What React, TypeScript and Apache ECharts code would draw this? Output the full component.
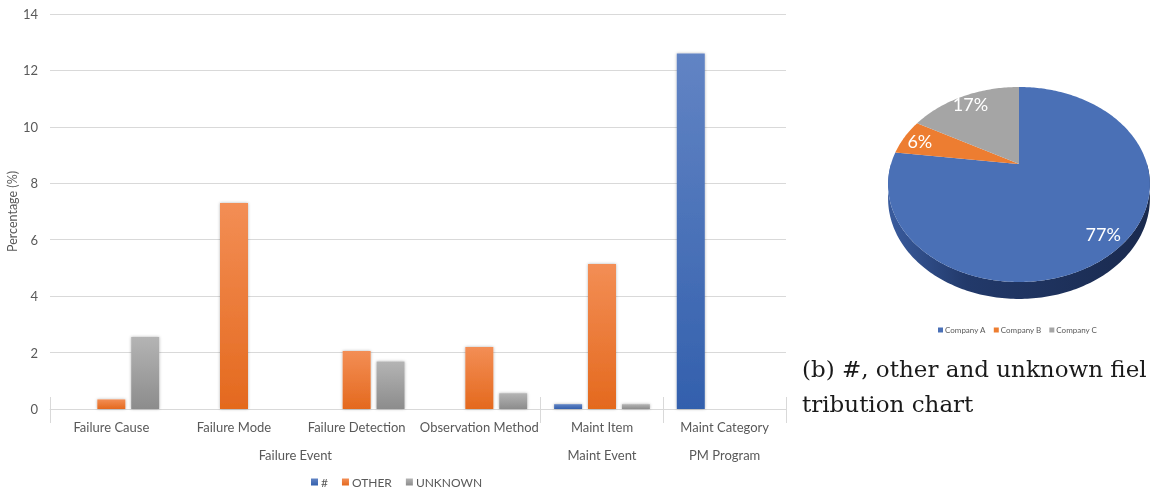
import React, { useEffect, useRef } from 'react';
import * as echarts from 'echarts';

// Field categories on the bar chart, grouped under their parent event
const categories = ['Failure Cause', 'Failure Mode', 'Failure Detection', 'Observation Method', 'Maint Item', 'Maint Category'];
const groupNames = ['Failure Event', 'Maint Event', 'PM Program'];
const groupSpans = [4, 1, 1];

// Percentage of records per field holding "#", "OTHER" or "UNKNOWN"
const seriesNames = ['#', 'OTHER', 'UNKNOWN'];
const hashValues = [0, 0, 0, 0, 0.17, 12.6];
const otherValues = [0.34, 7.3, 2.06, 2.2, 5.14, 0];
const unknownValues = [2.55, 0, 1.68, 0.56, 0.17, 0];

const yMin = 0;
const yMax = 14;
const yStep = 2;

// Share of the records by company (pie)
const companies = ['Company A', 'Company B', 'Company C'];
const companyShares = [77, 6, 17];

const captionLines = ['(b) #, other and unknown fiel', 'tribution chart'];

const FONT = 'Lato, "Open Sans", sans-serif';
const TEXT_GREY = '#595959';
const GRID_GREY = '#D9D9D9';

const barColors = [
  ['#6284C4', '#3360AD'],
  ['#F38E55', '#E4691E'],
  ['#B4B4B4', '#8C8C8C'],
];
const pieColors = ['#4A70B6', '#ED7D31', '#A5A5A5'];

// tilted-disc projection for the 3D pie
const PIE = { cx: 1019, cy: 164, a: 128, b: 93.2, q: 0.21, depth: 13.4 };
const rad = (d: number) => (d * Math.PI) / 180;
function project(thetaDeg: number, f = 1): [number, number] {
  const u = f * Math.cos(rad(thetaDeg));
  const v = f * Math.sin(rad(thetaDeg));
  const d = 1 + PIE.q * v;
  return [PIE.cx + (PIE.a * u) / d, PIE.cy - (PIE.b * v) / d];
}
function projectBottom(thetaDeg: number): [number, number] {
  const v = Math.sin(rad(thetaDeg));
  const [x, y] = project(thetaDeg);
  return [x, y + PIE.depth / (1 + PIE.q * v)];
}
function arcPoints(from: number, to: number, fn: (t: number) => [number, number]) {
  const pts: [number, number][] = [];
  const steps = Math.max(2, Math.ceil(Math.abs(from - to)));
  for (let i = 0; i <= steps; i++) pts.push(fn(from + ((to - from) * i) / steps));
  return pts;
}

function pieRenderItem(params: any, api: any) {
  const idx = companies.indexOf(params.seriesName);
  const total = companyShares.reduce((s, v) => s + v, 0);
  const before = companyShares.slice(0, idx).reduce((s, v) => s + v, 0);
  const value = api.value(0);
  const t0 = 90 - (before / total) * 360;
  const t1 = 90 - ((before + value) / total) * 360;
  const children: any[] = [];

  // front wall, visible where the rim faces the viewer
  const lo = Math.max(t1, -180);
  const hi = Math.min(t0, 0);
  if (lo < hi) {
    const top = arcPoints(hi, lo, project);
    const bottom = arcPoints(lo, hi, projectBottom);
    children.push({
      type: 'polygon',
      shape: { points: [...top, ...bottom] },
      style: {
        fill: new echarts.graphic.LinearGradient(0, 0, 1, 0, [
          { offset: 0, color: '#3A5C9E' },
          { offset: 0.3, color: '#22396A' },
          { offset: 1, color: '#1A2A4E' },
        ]),
      },
    });
  }

  children.push({
    type: 'polygon',
    shape: { points: [[PIE.cx, PIE.cy], ...arcPoints(t0, t1, project)] },
    style: { fill: pieColors[idx] },
  });

  const [lx, ly] = project((t0 + t1) / 2, 0.86);
  children.push({
    type: 'text',
    x: lx,
    y: ly,
    style: {
      text: `${Math.round((value / total) * 100)}%`,
      fill: '#FFFFFF',
      fontSize: 18,
      fontFamily: FONT,
      align: 'center',
      verticalAlign: 'middle',
    },
  });
  return { type: 'group', children };
}

export default function App() {
  const ref = useRef<HTMLDivElement>(null);

  useEffect(() => {
    if (!ref.current) return;
    const chart = echarts.init(ref.current, undefined, { renderer: 'svg' });

    const groupStarts: number[] = [];
    let acc = 0;
    groupSpans.forEach((s) => {
      groupStarts.push(acc);
      acc += s;
    });
    const groupAxisData: string[] = new Array(categories.length * 2 + 1).fill('');
    groupNames.forEach((g, i) => {
      groupAxisData[2 * groupStarts[i] + groupSpans[i]] = g;
    });
    const tickAtGroupStart = (i: number) => groupStarts.includes(i);

    const barData = [hashValues, otherValues, unknownValues];

    chart.setOption({
      animation: false,
      textStyle: { fontFamily: FONT },
      grid: { left: 50, right: 364, top: 14, bottom: 84, containLabel: false, outerBoundsMode: 'none' },
      legend: [
        {
          data: seriesNames,
          left: 306,
          top: 471,
          icon: 'rect',
          itemWidth: 7,
          itemHeight: 7,
          itemGap: 14,
          textStyle: { color: TEXT_GREY, fontSize: 12, fontFamily: FONT, padding: [0, 0, 0, -2] },
        },
        {
          data: companies,
          left: 933,
          top: 321,
          icon: 'rect',
          itemWidth: 5,
          itemHeight: 5,
          itemGap: 8,
          textStyle: { color: TEXT_GREY, fontSize: 8, fontFamily: FONT, padding: [0, 0, 0, -3] },
        },
      ],
      xAxis: [
        {
          type: 'category',
          data: categories,
          position: 'bottom',
          axisLine: { lineStyle: { color: GRID_GREY } },
          axisTick: { show: true, interval: tickAtGroupStart, length: 14, lineStyle: { color: GRID_GREY } },
          axisLabel: { interval: 0, color: TEXT_GREY, fontSize: 13, margin: 11 },
        },
        {
          type: 'category',
          data: categories,
          position: 'bottom',
          axisLine: { show: false },
          axisTick: { show: true, inside: true, interval: tickAtGroupStart, length: 12, lineStyle: { color: GRID_GREY } },
          axisLabel: { show: false },
        },
        {
          type: 'category',
          data: groupAxisData,
          position: 'bottom',
          boundaryGap: false,
          axisLine: { show: false },
          axisTick: { show: false },
          axisLabel: { interval: 0, color: TEXT_GREY, fontSize: 13, margin: 39 },
        },
      ],
      yAxis: {
        type: 'value',
        min: yMin,
        max: yMax,
        interval: yStep,
        name: 'Percentage (%)',
        nameLocation: 'middle',
        nameRotate: 90,
        nameGap: 31,
        nameMoveOverlap: false,
        nameTextStyle: { color: TEXT_GREY, fontSize: 12.5 },
        axisLine: { show: false },
        axisTick: { show: false },
        axisLabel: { color: TEXT_GREY, fontSize: 13, margin: 12 },
        splitLine: { lineStyle: { color: GRID_GREY } },
      },
      series: [
        ...seriesNames.map((name, i) => ({
          type: 'bar',
          name,
          data: barData[i],
          xAxisIndex: 0,
          yAxisIndex: 0,
          barWidth: 28,
          barGap: '21%',
          itemStyle: {
            color: new echarts.graphic.LinearGradient(0, 0, 0, 1, [
              { offset: 0, color: barColors[i][0] },
              { offset: 1, color: barColors[i][1] },
            ]),
            shadowBlur: 3,
            shadowColor: 'rgba(0,0,0,0.3)',
          },
        })),
        ...companies.map((name, i) => ({
          type: 'custom',
          name,
          coordinateSystem: 'none',
          itemStyle: { color: pieColors[i] },
          data: [{ value: companyShares[i] }],
          renderItem: pieRenderItem,
        })),
      ],
      graphic: captionLines.map((line, i) => ({
        type: 'text',
        left: 802,
        top: 357 + i * 35,
        style: {
          text: line,
          fill: '#1A1A1A',
          fontSize: 23,
          fontFamily: '"DejaVu Serif", serif',
        },
      })),
    });

    return () => chart.dispose();
  }, []);

  return <div ref={ref} style={{ position: 'fixed', left: 0, top: 0, width: 1150, height: 493 }} />;
}
